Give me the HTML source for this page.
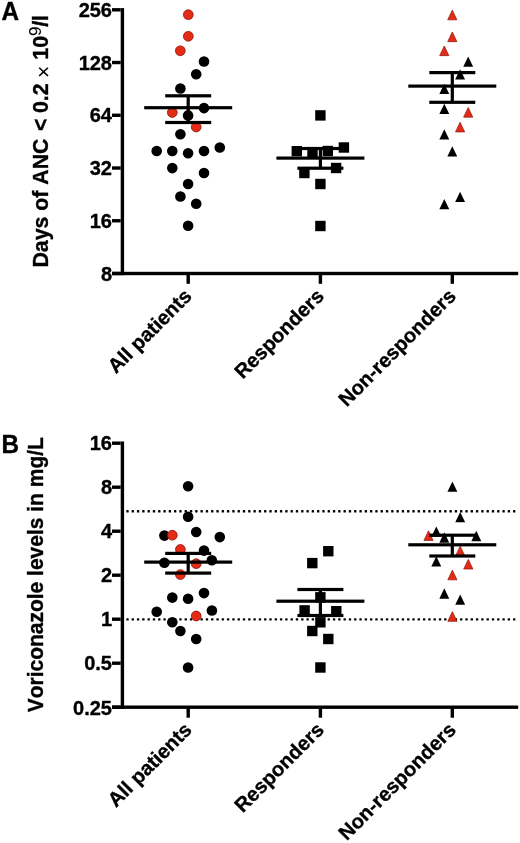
<!DOCTYPE html>
<html><head><meta charset="utf-8"><style>
html,body{margin:0;padding:0;background:#fff;overflow:hidden;width:520px;height:843px;}
svg{display:block;will-change:transform;}
text{font-family:"Liberation Sans", sans-serif;font-kerning:none;fill:#000;stroke:#000;stroke-width:0.35px;}
.tk{font-weight:bold;font-size:20px;}
.xl{font-weight:bold;font-size:20.2px;}
.yl{font-weight:bold;font-size:21.3px;}
.yl2{font-weight:bold;font-size:21.0px;}
.ylr{font-weight:normal;font-size:21px;stroke-width:0;}
.sup{font-weight:normal;font-size:17px;stroke-width:0.1px;}
.pl{font-weight:bold;font-size:24.3px;}
</style></head><body>
<svg width="520" height="843" viewBox="0 0 520 843">
<text x="112.0" y="16.80" text-anchor="end" class="tk">256</text>
<text x="112.0" y="69.54" text-anchor="end" class="tk">128</text>
<text x="112.0" y="122.28" text-anchor="end" class="tk">64</text>
<text x="112.0" y="175.02" text-anchor="end" class="tk">32</text>
<text x="112.0" y="227.76" text-anchor="end" class="tk">16</text>
<text x="112.0" y="281.30" text-anchor="end" class="tk">8</text>
<text x="112.0" y="450.20" text-anchor="end" class="tk">16</text>
<text x="112.0" y="494.20" text-anchor="end" class="tk">8</text>
<text x="112.0" y="538.20" text-anchor="end" class="tk">4</text>
<text x="112.0" y="582.20" text-anchor="end" class="tk">2</text>
<text x="112.0" y="626.20" text-anchor="end" class="tk">1</text>
<text x="112.0" y="670.20" text-anchor="end" class="tk">0.5</text>
<text x="112.0" y="714.70" text-anchor="end" class="tk">0.25</text>
<text transform="translate(193.00,297.30) rotate(-45)" text-anchor="end" class="xl">All patients</text>
<text transform="translate(325.20,297.30) rotate(-45)" text-anchor="end" class="xl">Responders</text>
<text transform="translate(457.10,297.30) rotate(-45)" text-anchor="end" class="xl">Non-responders</text>
<text transform="translate(193.00,731.10) rotate(-45)" text-anchor="end" class="xl">All patients</text>
<text transform="translate(325.20,731.10) rotate(-45)" text-anchor="end" class="xl">Responders</text>
<text transform="translate(457.10,731.10) rotate(-45)" text-anchor="end" class="xl">Non-responders</text>
<text transform="translate(1.4,19.5) scale(1,1.03)" class="pl">A</text>
<text transform="translate(1.4,453.2) scale(1,1.03)" class="pl">B</text>
<text transform="translate(47.6,267.53) rotate(-90) scale(1,1.04)" class="yl">Days of ANC</text>
<text transform="translate(47.6,130.90) rotate(-90) scale(1,1.04)" class="yl">&lt;</text>
<text transform="translate(47.6,113.05) rotate(-90) scale(1,1.04)" class="yl">0.2</text>
<text transform="translate(50.6,77.98) rotate(-90) scale(1,1.04)" class="ylr">×</text>
<text transform="translate(47.6,59.65) rotate(-90) scale(1,1.04)" class="yl">10</text>
<text transform="translate(40.90,35.90) rotate(-90)" class="sup">9</text>
<text transform="translate(47.6,26.80) rotate(-90) scale(1,1.04)" class="yl">/l</text>
<text transform="translate(43.2,712.34) rotate(-90) scale(1,1.04)" class="yl2">Voriconazole levels in mg/L</text>
<rect x="120.70" y="8.10" width="3.40" height="267.10" fill="#000"/>
<rect x="112.00" y="8.10" width="8.70" height="3.40" fill="#000"/>
<rect x="112.00" y="60.84" width="8.70" height="3.40" fill="#000"/>
<rect x="112.00" y="113.58" width="8.70" height="3.40" fill="#000"/>
<rect x="112.00" y="166.32" width="8.70" height="3.40" fill="#000"/>
<rect x="112.00" y="219.06" width="8.70" height="3.40" fill="#000"/>
<rect x="112.00" y="271.80" width="8.70" height="3.40" fill="#000"/>
<rect x="112.00" y="271.80" width="406.20" height="3.40" fill="#000"/>
<rect x="186.50" y="273.50" width="3.40" height="10.30" fill="#000"/>
<rect x="318.70" y="273.50" width="3.40" height="10.30" fill="#000"/>
<rect x="450.60" y="273.50" width="3.40" height="10.30" fill="#000"/>
<rect x="120.70" y="441.50" width="3.40" height="267.40" fill="#000"/>
<rect x="112.00" y="441.50" width="8.70" height="3.40" fill="#000"/>
<rect x="112.00" y="485.50" width="8.70" height="3.40" fill="#000"/>
<rect x="112.00" y="529.50" width="8.70" height="3.40" fill="#000"/>
<rect x="112.00" y="573.50" width="8.70" height="3.40" fill="#000"/>
<rect x="112.00" y="617.50" width="8.70" height="3.40" fill="#000"/>
<rect x="112.00" y="661.50" width="8.70" height="3.40" fill="#000"/>
<rect x="112.00" y="705.50" width="8.70" height="3.40" fill="#000"/>
<rect x="112.00" y="705.50" width="406.20" height="3.40" fill="#000"/>
<rect x="186.50" y="707.20" width="3.40" height="10.50" fill="#000"/>
<rect x="318.70" y="707.20" width="3.40" height="10.50" fill="#000"/>
<rect x="450.60" y="707.20" width="3.40" height="10.50" fill="#000"/>
<rect x="126.30" y="510.10" width="2.4" height="2.4" rx="0.6" fill="#000"/>
<rect x="131.60" y="510.10" width="2.4" height="2.4" rx="0.6" fill="#000"/>
<rect x="136.89" y="510.10" width="2.4" height="2.4" rx="0.6" fill="#000"/>
<rect x="142.19" y="510.10" width="2.4" height="2.4" rx="0.6" fill="#000"/>
<rect x="147.49" y="510.10" width="2.4" height="2.4" rx="0.6" fill="#000"/>
<rect x="152.79" y="510.10" width="2.4" height="2.4" rx="0.6" fill="#000"/>
<rect x="158.08" y="510.10" width="2.4" height="2.4" rx="0.6" fill="#000"/>
<rect x="163.38" y="510.10" width="2.4" height="2.4" rx="0.6" fill="#000"/>
<rect x="168.68" y="510.10" width="2.4" height="2.4" rx="0.6" fill="#000"/>
<rect x="173.97" y="510.10" width="2.4" height="2.4" rx="0.6" fill="#000"/>
<rect x="179.27" y="510.10" width="2.4" height="2.4" rx="0.6" fill="#000"/>
<rect x="184.57" y="510.10" width="2.4" height="2.4" rx="0.6" fill="#000"/>
<rect x="189.86" y="510.10" width="2.4" height="2.4" rx="0.6" fill="#000"/>
<rect x="195.16" y="510.10" width="2.4" height="2.4" rx="0.6" fill="#000"/>
<rect x="200.46" y="510.10" width="2.4" height="2.4" rx="0.6" fill="#000"/>
<rect x="205.75" y="510.10" width="2.4" height="2.4" rx="0.6" fill="#000"/>
<rect x="211.05" y="510.10" width="2.4" height="2.4" rx="0.6" fill="#000"/>
<rect x="216.35" y="510.10" width="2.4" height="2.4" rx="0.6" fill="#000"/>
<rect x="221.65" y="510.10" width="2.4" height="2.4" rx="0.6" fill="#000"/>
<rect x="226.94" y="510.10" width="2.4" height="2.4" rx="0.6" fill="#000"/>
<rect x="232.24" y="510.10" width="2.4" height="2.4" rx="0.6" fill="#000"/>
<rect x="237.54" y="510.10" width="2.4" height="2.4" rx="0.6" fill="#000"/>
<rect x="242.83" y="510.10" width="2.4" height="2.4" rx="0.6" fill="#000"/>
<rect x="248.13" y="510.10" width="2.4" height="2.4" rx="0.6" fill="#000"/>
<rect x="253.43" y="510.10" width="2.4" height="2.4" rx="0.6" fill="#000"/>
<rect x="258.72" y="510.10" width="2.4" height="2.4" rx="0.6" fill="#000"/>
<rect x="264.02" y="510.10" width="2.4" height="2.4" rx="0.6" fill="#000"/>
<rect x="269.32" y="510.10" width="2.4" height="2.4" rx="0.6" fill="#000"/>
<rect x="274.62" y="510.10" width="2.4" height="2.4" rx="0.6" fill="#000"/>
<rect x="279.91" y="510.10" width="2.4" height="2.4" rx="0.6" fill="#000"/>
<rect x="285.21" y="510.10" width="2.4" height="2.4" rx="0.6" fill="#000"/>
<rect x="290.51" y="510.10" width="2.4" height="2.4" rx="0.6" fill="#000"/>
<rect x="295.80" y="510.10" width="2.4" height="2.4" rx="0.6" fill="#000"/>
<rect x="301.10" y="510.10" width="2.4" height="2.4" rx="0.6" fill="#000"/>
<rect x="306.40" y="510.10" width="2.4" height="2.4" rx="0.6" fill="#000"/>
<rect x="311.69" y="510.10" width="2.4" height="2.4" rx="0.6" fill="#000"/>
<rect x="316.99" y="510.10" width="2.4" height="2.4" rx="0.6" fill="#000"/>
<rect x="322.29" y="510.10" width="2.4" height="2.4" rx="0.6" fill="#000"/>
<rect x="327.59" y="510.10" width="2.4" height="2.4" rx="0.6" fill="#000"/>
<rect x="332.88" y="510.10" width="2.4" height="2.4" rx="0.6" fill="#000"/>
<rect x="338.18" y="510.10" width="2.4" height="2.4" rx="0.6" fill="#000"/>
<rect x="343.48" y="510.10" width="2.4" height="2.4" rx="0.6" fill="#000"/>
<rect x="348.77" y="510.10" width="2.4" height="2.4" rx="0.6" fill="#000"/>
<rect x="354.07" y="510.10" width="2.4" height="2.4" rx="0.6" fill="#000"/>
<rect x="359.37" y="510.10" width="2.4" height="2.4" rx="0.6" fill="#000"/>
<rect x="364.67" y="510.10" width="2.4" height="2.4" rx="0.6" fill="#000"/>
<rect x="369.96" y="510.10" width="2.4" height="2.4" rx="0.6" fill="#000"/>
<rect x="375.26" y="510.10" width="2.4" height="2.4" rx="0.6" fill="#000"/>
<rect x="380.56" y="510.10" width="2.4" height="2.4" rx="0.6" fill="#000"/>
<rect x="385.85" y="510.10" width="2.4" height="2.4" rx="0.6" fill="#000"/>
<rect x="391.15" y="510.10" width="2.4" height="2.4" rx="0.6" fill="#000"/>
<rect x="396.45" y="510.10" width="2.4" height="2.4" rx="0.6" fill="#000"/>
<rect x="401.74" y="510.10" width="2.4" height="2.4" rx="0.6" fill="#000"/>
<rect x="407.04" y="510.10" width="2.4" height="2.4" rx="0.6" fill="#000"/>
<rect x="412.34" y="510.10" width="2.4" height="2.4" rx="0.6" fill="#000"/>
<rect x="417.63" y="510.10" width="2.4" height="2.4" rx="0.6" fill="#000"/>
<rect x="422.93" y="510.10" width="2.4" height="2.4" rx="0.6" fill="#000"/>
<rect x="428.23" y="510.10" width="2.4" height="2.4" rx="0.6" fill="#000"/>
<rect x="433.53" y="510.10" width="2.4" height="2.4" rx="0.6" fill="#000"/>
<rect x="438.82" y="510.10" width="2.4" height="2.4" rx="0.6" fill="#000"/>
<rect x="444.12" y="510.10" width="2.4" height="2.4" rx="0.6" fill="#000"/>
<rect x="449.42" y="510.10" width="2.4" height="2.4" rx="0.6" fill="#000"/>
<rect x="454.71" y="510.10" width="2.4" height="2.4" rx="0.6" fill="#000"/>
<rect x="460.01" y="510.10" width="2.4" height="2.4" rx="0.6" fill="#000"/>
<rect x="465.31" y="510.10" width="2.4" height="2.4" rx="0.6" fill="#000"/>
<rect x="470.61" y="510.10" width="2.4" height="2.4" rx="0.6" fill="#000"/>
<rect x="475.90" y="510.10" width="2.4" height="2.4" rx="0.6" fill="#000"/>
<rect x="481.20" y="510.10" width="2.4" height="2.4" rx="0.6" fill="#000"/>
<rect x="486.50" y="510.10" width="2.4" height="2.4" rx="0.6" fill="#000"/>
<rect x="491.79" y="510.10" width="2.4" height="2.4" rx="0.6" fill="#000"/>
<rect x="497.09" y="510.10" width="2.4" height="2.4" rx="0.6" fill="#000"/>
<rect x="502.39" y="510.10" width="2.4" height="2.4" rx="0.6" fill="#000"/>
<rect x="507.68" y="510.10" width="2.4" height="2.4" rx="0.6" fill="#000"/>
<rect x="512.98" y="510.10" width="2.4" height="2.4" rx="0.6" fill="#000"/>
<rect x="126.30" y="618.20" width="2.4" height="2.4" rx="0.6" fill="#000"/>
<rect x="131.60" y="618.20" width="2.4" height="2.4" rx="0.6" fill="#000"/>
<rect x="136.89" y="618.20" width="2.4" height="2.4" rx="0.6" fill="#000"/>
<rect x="142.19" y="618.20" width="2.4" height="2.4" rx="0.6" fill="#000"/>
<rect x="147.49" y="618.20" width="2.4" height="2.4" rx="0.6" fill="#000"/>
<rect x="152.79" y="618.20" width="2.4" height="2.4" rx="0.6" fill="#000"/>
<rect x="158.08" y="618.20" width="2.4" height="2.4" rx="0.6" fill="#000"/>
<rect x="163.38" y="618.20" width="2.4" height="2.4" rx="0.6" fill="#000"/>
<rect x="168.68" y="618.20" width="2.4" height="2.4" rx="0.6" fill="#000"/>
<rect x="173.97" y="618.20" width="2.4" height="2.4" rx="0.6" fill="#000"/>
<rect x="179.27" y="618.20" width="2.4" height="2.4" rx="0.6" fill="#000"/>
<rect x="184.57" y="618.20" width="2.4" height="2.4" rx="0.6" fill="#000"/>
<rect x="189.86" y="618.20" width="2.4" height="2.4" rx="0.6" fill="#000"/>
<rect x="195.16" y="618.20" width="2.4" height="2.4" rx="0.6" fill="#000"/>
<rect x="200.46" y="618.20" width="2.4" height="2.4" rx="0.6" fill="#000"/>
<rect x="205.75" y="618.20" width="2.4" height="2.4" rx="0.6" fill="#000"/>
<rect x="211.05" y="618.20" width="2.4" height="2.4" rx="0.6" fill="#000"/>
<rect x="216.35" y="618.20" width="2.4" height="2.4" rx="0.6" fill="#000"/>
<rect x="221.65" y="618.20" width="2.4" height="2.4" rx="0.6" fill="#000"/>
<rect x="226.94" y="618.20" width="2.4" height="2.4" rx="0.6" fill="#000"/>
<rect x="232.24" y="618.20" width="2.4" height="2.4" rx="0.6" fill="#000"/>
<rect x="237.54" y="618.20" width="2.4" height="2.4" rx="0.6" fill="#000"/>
<rect x="242.83" y="618.20" width="2.4" height="2.4" rx="0.6" fill="#000"/>
<rect x="248.13" y="618.20" width="2.4" height="2.4" rx="0.6" fill="#000"/>
<rect x="253.43" y="618.20" width="2.4" height="2.4" rx="0.6" fill="#000"/>
<rect x="258.72" y="618.20" width="2.4" height="2.4" rx="0.6" fill="#000"/>
<rect x="264.02" y="618.20" width="2.4" height="2.4" rx="0.6" fill="#000"/>
<rect x="269.32" y="618.20" width="2.4" height="2.4" rx="0.6" fill="#000"/>
<rect x="274.62" y="618.20" width="2.4" height="2.4" rx="0.6" fill="#000"/>
<rect x="279.91" y="618.20" width="2.4" height="2.4" rx="0.6" fill="#000"/>
<rect x="285.21" y="618.20" width="2.4" height="2.4" rx="0.6" fill="#000"/>
<rect x="290.51" y="618.20" width="2.4" height="2.4" rx="0.6" fill="#000"/>
<rect x="295.80" y="618.20" width="2.4" height="2.4" rx="0.6" fill="#000"/>
<rect x="301.10" y="618.20" width="2.4" height="2.4" rx="0.6" fill="#000"/>
<rect x="306.40" y="618.20" width="2.4" height="2.4" rx="0.6" fill="#000"/>
<rect x="311.69" y="618.20" width="2.4" height="2.4" rx="0.6" fill="#000"/>
<rect x="316.99" y="618.20" width="2.4" height="2.4" rx="0.6" fill="#000"/>
<rect x="322.29" y="618.20" width="2.4" height="2.4" rx="0.6" fill="#000"/>
<rect x="327.59" y="618.20" width="2.4" height="2.4" rx="0.6" fill="#000"/>
<rect x="332.88" y="618.20" width="2.4" height="2.4" rx="0.6" fill="#000"/>
<rect x="338.18" y="618.20" width="2.4" height="2.4" rx="0.6" fill="#000"/>
<rect x="343.48" y="618.20" width="2.4" height="2.4" rx="0.6" fill="#000"/>
<rect x="348.77" y="618.20" width="2.4" height="2.4" rx="0.6" fill="#000"/>
<rect x="354.07" y="618.20" width="2.4" height="2.4" rx="0.6" fill="#000"/>
<rect x="359.37" y="618.20" width="2.4" height="2.4" rx="0.6" fill="#000"/>
<rect x="364.67" y="618.20" width="2.4" height="2.4" rx="0.6" fill="#000"/>
<rect x="369.96" y="618.20" width="2.4" height="2.4" rx="0.6" fill="#000"/>
<rect x="375.26" y="618.20" width="2.4" height="2.4" rx="0.6" fill="#000"/>
<rect x="380.56" y="618.20" width="2.4" height="2.4" rx="0.6" fill="#000"/>
<rect x="385.85" y="618.20" width="2.4" height="2.4" rx="0.6" fill="#000"/>
<rect x="391.15" y="618.20" width="2.4" height="2.4" rx="0.6" fill="#000"/>
<rect x="396.45" y="618.20" width="2.4" height="2.4" rx="0.6" fill="#000"/>
<rect x="401.74" y="618.20" width="2.4" height="2.4" rx="0.6" fill="#000"/>
<rect x="407.04" y="618.20" width="2.4" height="2.4" rx="0.6" fill="#000"/>
<rect x="412.34" y="618.20" width="2.4" height="2.4" rx="0.6" fill="#000"/>
<rect x="417.63" y="618.20" width="2.4" height="2.4" rx="0.6" fill="#000"/>
<rect x="422.93" y="618.20" width="2.4" height="2.4" rx="0.6" fill="#000"/>
<rect x="428.23" y="618.20" width="2.4" height="2.4" rx="0.6" fill="#000"/>
<rect x="433.53" y="618.20" width="2.4" height="2.4" rx="0.6" fill="#000"/>
<rect x="438.82" y="618.20" width="2.4" height="2.4" rx="0.6" fill="#000"/>
<rect x="444.12" y="618.20" width="2.4" height="2.4" rx="0.6" fill="#000"/>
<rect x="449.42" y="618.20" width="2.4" height="2.4" rx="0.6" fill="#000"/>
<rect x="454.71" y="618.20" width="2.4" height="2.4" rx="0.6" fill="#000"/>
<rect x="460.01" y="618.20" width="2.4" height="2.4" rx="0.6" fill="#000"/>
<rect x="465.31" y="618.20" width="2.4" height="2.4" rx="0.6" fill="#000"/>
<rect x="470.61" y="618.20" width="2.4" height="2.4" rx="0.6" fill="#000"/>
<rect x="475.90" y="618.20" width="2.4" height="2.4" rx="0.6" fill="#000"/>
<rect x="481.20" y="618.20" width="2.4" height="2.4" rx="0.6" fill="#000"/>
<rect x="486.50" y="618.20" width="2.4" height="2.4" rx="0.6" fill="#000"/>
<rect x="491.79" y="618.20" width="2.4" height="2.4" rx="0.6" fill="#000"/>
<rect x="497.09" y="618.20" width="2.4" height="2.4" rx="0.6" fill="#000"/>
<rect x="502.39" y="618.20" width="2.4" height="2.4" rx="0.6" fill="#000"/>
<rect x="507.68" y="618.20" width="2.4" height="2.4" rx="0.6" fill="#000"/>
<rect x="512.98" y="618.20" width="2.4" height="2.4" rx="0.6" fill="#000"/>
<circle cx="204.00" cy="61.50" r="5.30" fill="#000"/>
<circle cx="196.20" cy="74.20" r="5.30" fill="#000"/>
<circle cx="180.40" cy="88.50" r="5.30" fill="#000"/>
<circle cx="204.00" cy="108.10" r="5.30" fill="#000"/>
<circle cx="188.10" cy="115.40" r="5.30" fill="#000"/>
<circle cx="180.40" cy="134.20" r="5.30" fill="#000"/>
<circle cx="156.70" cy="151.00" r="5.30" fill="#000"/>
<circle cx="172.30" cy="151.00" r="5.30" fill="#000"/>
<circle cx="188.10" cy="153.30" r="5.30" fill="#000"/>
<circle cx="204.00" cy="151.00" r="5.30" fill="#000"/>
<circle cx="219.80" cy="147.50" r="5.30" fill="#000"/>
<circle cx="172.30" cy="168.10" r="5.30" fill="#000"/>
<circle cx="204.00" cy="173.00" r="5.30" fill="#000"/>
<circle cx="188.10" cy="184.00" r="5.30" fill="#000"/>
<circle cx="180.40" cy="196.50" r="5.30" fill="#000"/>
<circle cx="196.20" cy="203.80" r="5.30" fill="#000"/>
<circle cx="188.10" cy="225.80" r="5.30" fill="#000"/>
<circle cx="188.30" cy="14.70" r="4.90" fill="#e42b16" stroke="#8e140c" stroke-width="0.8"/>
<circle cx="188.30" cy="36.30" r="4.90" fill="#e42b16" stroke="#8e140c" stroke-width="0.8"/>
<circle cx="180.30" cy="50.80" r="4.90" fill="#e42b16" stroke="#8e140c" stroke-width="0.8"/>
<circle cx="172.30" cy="112.50" r="4.90" fill="#e42b16" stroke="#8e140c" stroke-width="0.8"/>
<circle cx="196.20" cy="127.00" r="4.90" fill="#e42b16" stroke="#8e140c" stroke-width="0.8"/>
<rect x="144.20" y="106.10" width="88.00" height="3.20" fill="#000"/>
<rect x="165.20" y="94.20" width="46.00" height="3.20" fill="#000"/>
<rect x="165.20" y="120.90" width="46.00" height="3.20" fill="#000"/>
<rect x="186.60" y="95.80" width="3.20" height="26.70" fill="#000"/>
<rect x="315.20" y="110.20" width="10.4" height="10.4" fill="#000"/>
<rect x="291.60" y="146.00" width="10.4" height="10.4" fill="#000"/>
<rect x="307.30" y="147.70" width="10.4" height="10.4" fill="#000"/>
<rect x="322.60" y="145.80" width="10.4" height="10.4" fill="#000"/>
<rect x="338.70" y="142.30" width="10.4" height="10.4" fill="#000"/>
<rect x="299.20" y="167.80" width="10.4" height="10.4" fill="#000"/>
<rect x="330.90" y="162.80" width="10.4" height="10.4" fill="#000"/>
<rect x="315.20" y="178.80" width="10.4" height="10.4" fill="#000"/>
<rect x="315.20" y="220.80" width="10.4" height="10.4" fill="#000"/>
<rect x="276.40" y="156.50" width="88.00" height="3.20" fill="#000"/>
<rect x="297.40" y="146.90" width="46.00" height="3.20" fill="#000"/>
<rect x="297.40" y="166.60" width="46.00" height="3.20" fill="#000"/>
<rect x="318.80" y="148.50" width="3.20" height="19.70" fill="#000"/>
<polygon points="452.30,10.15 456.90,19.85 447.70,19.85" fill="#e42b16" stroke="#8e140c" stroke-width="0.7" stroke-linejoin="round"/>
<polygon points="452.30,31.95 456.90,41.65 447.70,41.65" fill="#e42b16" stroke="#8e140c" stroke-width="0.7" stroke-linejoin="round"/>
<polygon points="444.30,45.95 448.90,55.65 439.70,55.65" fill="#e42b16" stroke="#8e140c" stroke-width="0.7" stroke-linejoin="round"/>
<polygon points="468.20,56.55 473.15,66.85 463.25,66.85" fill="#000"/>
<polygon points="460.10,69.25 465.05,79.55 455.15,79.55" fill="#000"/>
<polygon points="444.30,83.65 449.25,93.95 439.35,93.95" fill="#000"/>
<polygon points="444.30,103.65 449.25,113.95 439.35,113.95" fill="#000"/>
<polygon points="468.20,107.45 472.80,117.15 463.60,117.15" fill="#e42b16" stroke="#8e140c" stroke-width="0.7" stroke-linejoin="round"/>
<polygon points="460.10,122.25 464.70,131.95 455.50,131.95" fill="#e42b16" stroke="#8e140c" stroke-width="0.7" stroke-linejoin="round"/>
<polygon points="444.30,129.15 449.25,139.45 439.35,139.45" fill="#000"/>
<polygon points="452.30,146.25 457.25,156.55 447.35,156.55" fill="#000"/>
<polygon points="460.10,191.75 465.05,202.05 455.15,202.05" fill="#000"/>
<polygon points="444.30,198.95 449.25,209.25 439.35,209.25" fill="#000"/>
<rect x="408.30" y="84.50" width="88.00" height="3.20" fill="#000"/>
<rect x="429.30" y="71.00" width="46.00" height="3.20" fill="#000"/>
<rect x="429.30" y="100.70" width="46.00" height="3.20" fill="#000"/>
<rect x="450.70" y="72.60" width="3.20" height="29.70" fill="#000"/>
<circle cx="188.10" cy="486.30" r="5.30" fill="#000"/>
<circle cx="188.10" cy="516.70" r="5.30" fill="#000"/>
<circle cx="196.20" cy="532.00" r="5.30" fill="#000"/>
<circle cx="164.40" cy="535.60" r="5.30" fill="#000"/>
<circle cx="172.30" cy="535.20" r="4.90" fill="#e42b16" stroke="#8e140c" stroke-width="0.8"/>
<circle cx="219.80" cy="537.10" r="5.30" fill="#000"/>
<circle cx="180.40" cy="549.50" r="4.90" fill="#e42b16" stroke="#8e140c" stroke-width="0.8"/>
<circle cx="204.00" cy="550.60" r="5.30" fill="#000"/>
<circle cx="164.40" cy="562.70" r="5.30" fill="#000"/>
<circle cx="196.20" cy="563.70" r="4.90" fill="#e42b16" stroke="#8e140c" stroke-width="0.8"/>
<circle cx="211.80" cy="560.20" r="5.30" fill="#000"/>
<circle cx="180.40" cy="574.60" r="4.90" fill="#e42b16" stroke="#8e140c" stroke-width="0.8"/>
<circle cx="172.30" cy="597.60" r="5.30" fill="#000"/>
<circle cx="188.10" cy="598.80" r="5.30" fill="#000"/>
<circle cx="204.00" cy="593.10" r="5.30" fill="#000"/>
<circle cx="156.70" cy="611.70" r="5.30" fill="#000"/>
<circle cx="196.20" cy="616.00" r="4.90" fill="#e42b16" stroke="#8e140c" stroke-width="0.8"/>
<circle cx="211.90" cy="610.50" r="5.30" fill="#000"/>
<circle cx="172.30" cy="622.30" r="5.30" fill="#000"/>
<circle cx="180.40" cy="631.00" r="5.30" fill="#000"/>
<circle cx="196.20" cy="639.00" r="5.30" fill="#000"/>
<circle cx="188.10" cy="667.50" r="5.30" fill="#000"/>
<rect x="144.20" y="560.50" width="88.00" height="3.20" fill="#000"/>
<rect x="165.20" y="551.80" width="46.00" height="3.20" fill="#000"/>
<rect x="165.20" y="571.50" width="46.00" height="3.20" fill="#000"/>
<rect x="186.60" y="553.40" width="3.20" height="19.70" fill="#000"/>
<rect x="323.10" y="546.00" width="10.4" height="10.4" fill="#000"/>
<rect x="307.10" y="557.90" width="10.4" height="10.4" fill="#000"/>
<rect x="315.20" y="592.10" width="10.4" height="10.4" fill="#000"/>
<rect x="299.40" y="605.20" width="10.4" height="10.4" fill="#000"/>
<rect x="331.10" y="606.00" width="10.4" height="10.4" fill="#000"/>
<rect x="315.20" y="617.10" width="10.4" height="10.4" fill="#000"/>
<rect x="307.10" y="625.80" width="10.4" height="10.4" fill="#000"/>
<rect x="323.10" y="633.80" width="10.4" height="10.4" fill="#000"/>
<rect x="315.20" y="662.30" width="10.4" height="10.4" fill="#000"/>
<rect x="276.40" y="599.60" width="88.00" height="3.20" fill="#000"/>
<rect x="297.40" y="587.90" width="46.00" height="3.20" fill="#000"/>
<rect x="297.40" y="613.90" width="46.00" height="3.20" fill="#000"/>
<rect x="318.80" y="589.50" width="3.20" height="26.00" fill="#000"/>
<polygon points="452.40,481.55 457.35,491.85 447.45,491.85" fill="#000"/>
<polygon points="460.20,511.95 465.15,522.25 455.25,522.25" fill="#000"/>
<polygon points="428.50,530.75 433.10,540.45 423.90,540.45" fill="#e42b16" stroke="#8e140c" stroke-width="0.7" stroke-linejoin="round"/>
<polygon points="436.30,526.55 441.25,536.85 431.35,536.85" fill="#000"/>
<polygon points="444.30,532.35 449.25,542.65 439.35,542.65" fill="#000"/>
<polygon points="476.30,530.85 481.25,541.15 471.35,541.15" fill="#000"/>
<polygon points="460.20,546.15 464.80,555.85 455.60,555.85" fill="#e42b16" stroke="#8e140c" stroke-width="0.7" stroke-linejoin="round"/>
<polygon points="436.30,556.15 441.25,566.45 431.35,566.45" fill="#000"/>
<polygon points="468.30,559.35 472.90,569.05 463.70,569.05" fill="#e42b16" stroke="#8e140c" stroke-width="0.7" stroke-linejoin="round"/>
<polygon points="452.40,570.15 457.00,579.85 447.80,579.85" fill="#e42b16" stroke="#8e140c" stroke-width="0.7" stroke-linejoin="round"/>
<polygon points="444.30,588.35 449.25,598.65 439.35,598.65" fill="#000"/>
<polygon points="460.20,594.45 465.15,604.75 455.25,604.75" fill="#000"/>
<polygon points="452.40,611.65 457.00,621.35 447.80,621.35" fill="#e42b16" stroke="#8e140c" stroke-width="0.7" stroke-linejoin="round"/>
<rect x="408.30" y="543.20" width="88.00" height="3.20" fill="#000"/>
<rect x="429.30" y="533.60" width="46.00" height="3.20" fill="#000"/>
<rect x="429.30" y="554.40" width="46.00" height="3.20" fill="#000"/>
<rect x="450.70" y="535.20" width="3.20" height="20.80" fill="#000"/>
</svg>
</body></html>
